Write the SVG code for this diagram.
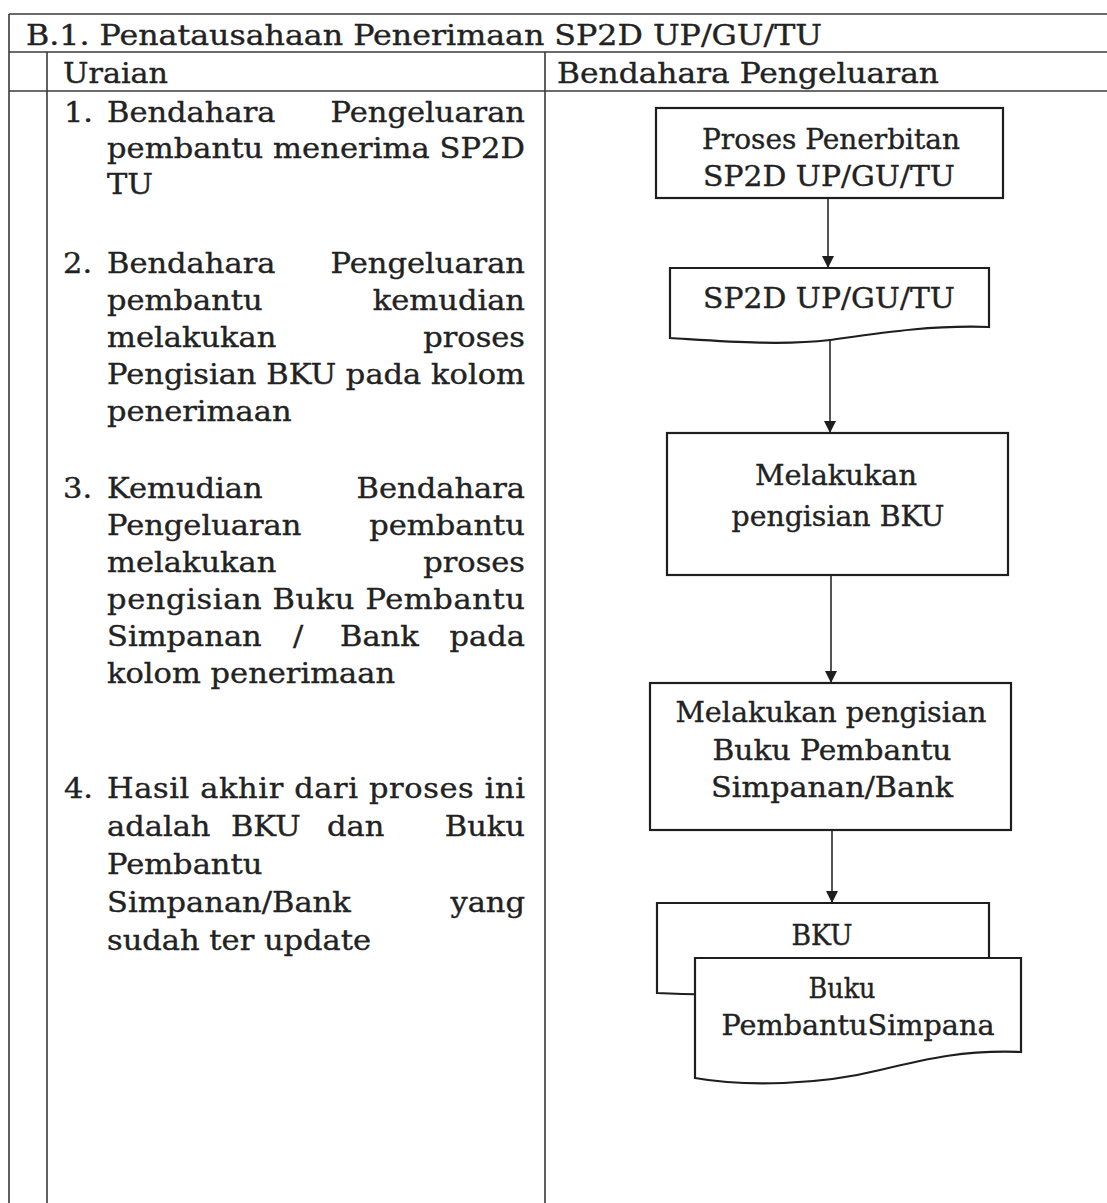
<svg xmlns="http://www.w3.org/2000/svg" width="1107" height="1203" viewBox="0 0 1107 1203">
<style>
.t{font-family:"DejaVu Serif","Liberation Serif",serif;font-size:27px;fill:#222;stroke:#222;stroke-width:0.35}
.e{text-anchor:end}
.m{text-anchor:middle}
.tbl{stroke:#3a3a3a;stroke-width:1.6;fill:none}
.box{stroke:#1e1e1e;stroke-width:2.2;fill:#fff}
.con{stroke:#2a2a2a;stroke-width:1.6;fill:none}
</style>
<defs>
<marker id="arr" viewBox="0 0 10 10" refX="10" refY="5" markerWidth="14" markerHeight="12" orient="auto" markerUnits="userSpaceOnUse">
<path d="M0,0 L10,5 L0,10 Z" fill="#1e1e1e"/>
</marker>
</defs>
<rect width="1107" height="1203" fill="#fff"/>
<g id="table">
<line class="tbl" x1="9" y1="14" x2="1107" y2="14"/>
<line class="tbl" x1="9" y1="14" x2="9" y2="1203"/>
<line class="tbl" x1="9" y1="52" x2="1107" y2="52"/>
<line class="tbl" x1="9" y1="91" x2="1107" y2="91"/>
<line class="tbl" x1="47" y1="52" x2="47" y2="1203"/>
<line class="tbl" x1="545" y1="52" x2="545" y2="1203"/>
<text class="t" x="26" y="45" textLength="796" lengthAdjust="spacingAndGlyphs">B.1. Penatausahaan Penerimaan SP2D UP/GU/TU</text>
<text class="t" x="63" y="83" textLength="105" lengthAdjust="spacingAndGlyphs">Uraian</text>
<text class="t" x="557" y="83" textLength="382" lengthAdjust="spacingAndGlyphs">Bendahara Pengeluaran</text>
</g>
<g id="uraian" transform="scale(1.13 1)">
<g id="item1">
<text class="t" x="56.6" y="122">1.</text>
<text class="t" x="94.7" y="122">Bendahara</text>
<text class="t e" x="464.6" y="122">Pengeluaran</text>
<text class="t" x="94.7" y="158" textLength="369.9" lengthAdjust="spacing">pembantu menerima SP2D</text>
<text class="t" x="94.7" y="194">TU</text>
</g>
<g id="item2">
<text class="t" x="55.8" y="273">2.</text>
<text class="t" x="94.7" y="273">Bendahara</text>
<text class="t e" x="464.6" y="273">Pengeluaran</text>
<text class="t" x="94.7" y="310">pembantu</text>
<text class="t e" x="464.6" y="310">kemudian</text>
<text class="t" x="94.7" y="347">melakukan</text>
<text class="t e" x="464.6" y="347">proses</text>
<text class="t" x="94.7" y="384" textLength="369.9" lengthAdjust="spacing">Pengisian BKU pada kolom</text>
<text class="t" x="94.7" y="421">penerimaan</text>
</g>
<g id="item3">
<text class="t" x="55.8" y="498">3.</text>
<text class="t" x="94.7" y="498">Kemudian</text>
<text class="t e" x="464.6" y="498">Bendahara</text>
<text class="t" x="94.7" y="535">Pengeluaran</text>
<text class="t e" x="464.6" y="535">pembantu</text>
<text class="t" x="94.7" y="572">melakukan</text>
<text class="t e" x="464.6" y="572">proses</text>
<text class="t" x="94.7" y="609" textLength="369.9" lengthAdjust="spacing">pengisian Buku Pembantu</text>
<text class="t" x="94.7" y="646">Simpanan</text>
<text class="t" x="259.3" y="646">/</text>
<text class="t" x="300.9" y="646">Bank</text>
<text class="t e" x="464.6" y="646">pada</text>
<text class="t" x="94.7" y="683">kolom penerimaan</text>
</g>
<g id="item4">
<text class="t" x="56.6" y="798">4.</text>
<text class="t" x="94.7" y="798" textLength="369.9" lengthAdjust="spacing">Hasil akhir dari proses ini</text>
<text class="t" x="94.7" y="836">adalah</text>
<text class="t" x="204.4" y="836">BKU</text>
<text class="t" x="289.4" y="836">dan</text>
<text class="t e" x="464.6" y="836">Buku</text>
<text class="t" x="94.7" y="874">Pembantu</text>
<text class="t" x="94.7" y="912">Simpanan/Bank</text>
<text class="t e" x="464.6" y="912">yang</text>
<text class="t" x="94.7" y="950">sudah ter update</text>
</g>
</g>
<g id="connectors">
<line class="con" x1="828" y1="198" x2="828" y2="268" marker-end="url(#arr)"/>
<line class="con" x1="830" y1="341" x2="830" y2="433" marker-end="url(#arr)"/>
<line class="con" x1="831" y1="575" x2="831" y2="683" marker-end="url(#arr)"/>
<line class="con" x1="832" y1="830" x2="832" y2="903" marker-end="url(#arr)"/>
</g>
<g id="proses-penerbitan">
<rect class="box" x="656" y="108" width="347" height="90"/>
<text class="t m" x="831" y="149" textLength="258" lengthAdjust="spacingAndGlyphs">Proses Penerbitan</text>
<text class="t m" x="829" y="186" textLength="252" lengthAdjust="spacingAndGlyphs">SP2D UP/GU/TU</text>
</g>
<g id="sp2d-doc">
<path class="box" d="M670,268 L989,268 L989,327 C930,325 880,333 830,340 C780,346 720,341 670,338 Z"/>
<text class="t m" x="829" y="308" textLength="252" lengthAdjust="spacingAndGlyphs">SP2D UP/GU/TU</text>
</g>
<g id="pengisian-bku">
<rect class="box" x="667" y="433" width="341" height="142"/>
<text class="t m" x="836" y="485" textLength="162" lengthAdjust="spacingAndGlyphs">Melakukan</text>
<text class="t m" x="838" y="526" textLength="213" lengthAdjust="spacingAndGlyphs">pengisian BKU</text>
</g>
<g id="pengisian-buku-pembantu">
<rect class="box" x="650" y="683" width="361" height="147"/>
<text class="t m" x="831" y="722" textLength="311" lengthAdjust="spacingAndGlyphs">Melakukan pengisian</text>
<text class="t m" x="832" y="760" textLength="239" lengthAdjust="spacingAndGlyphs">Buku Pembantu</text>
<text class="t m" x="832" y="797" textLength="242" lengthAdjust="spacingAndGlyphs">Simpanan/Bank</text>
</g>
<g id="bku-doc">
<path class="box" d="M657,903 L989,903 L989,975 C930,973 880,982 830,988 C780,994 710,996 657,993 Z"/>
<text class="t m" x="822" y="945" textLength="61" lengthAdjust="spacingAndGlyphs">BKU</text>
</g>
<g id="buku-pembantu-doc">
<path class="box" d="M695,958 L1021,958 L1021,1052 C965,1050 930,1058 880,1070 C820,1085 745,1087 695,1078 Z"/>
<text class="t m" x="842" y="998" textLength="67" lengthAdjust="spacingAndGlyphs">Buku</text>
<text class="t m" x="858" y="1035" textLength="273" lengthAdjust="spacingAndGlyphs">PembantuSimpana</text>
</g>
</svg>
